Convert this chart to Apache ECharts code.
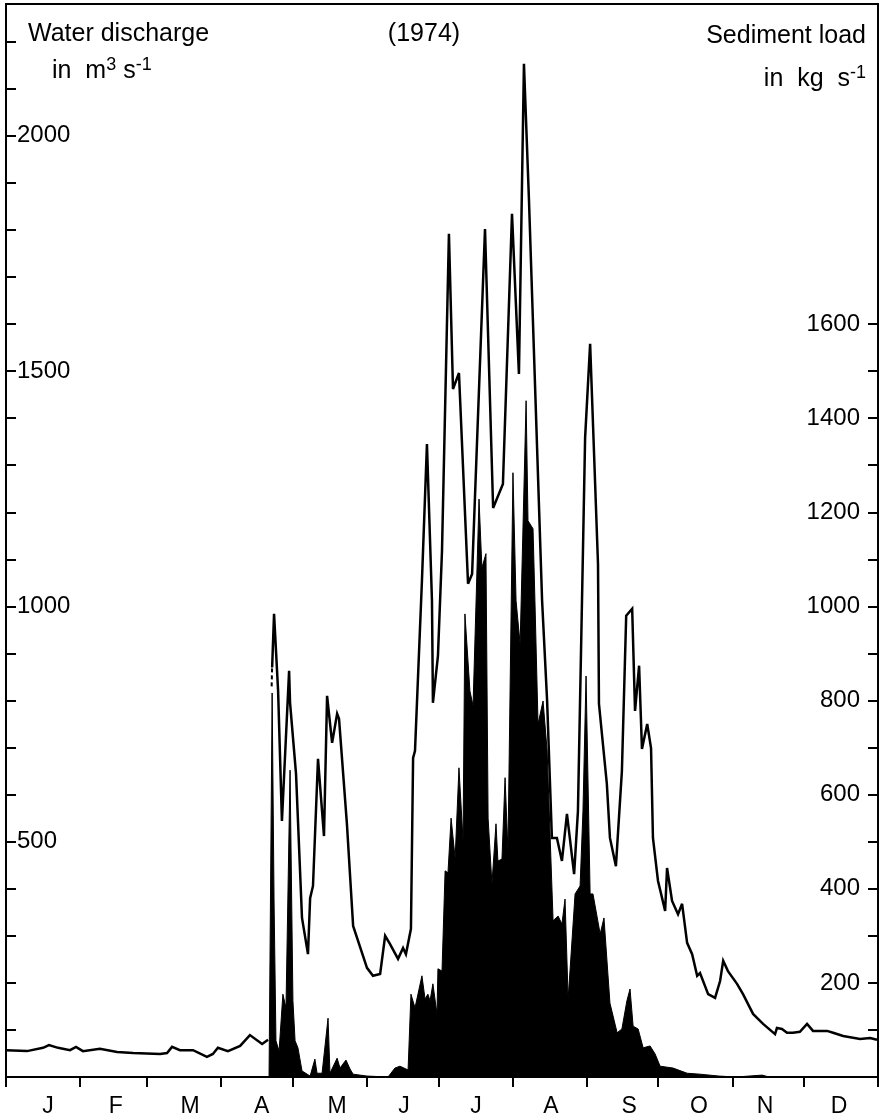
<!DOCTYPE html>
<html>
<head>
<meta charset="utf-8">
<script src="https://cdn.jsdelivr.net/npm/echarts@6/dist/echarts.min.js"></script>
<style>
  html, body { margin: 0; padding: 0; background: #fff; }
  #chart { width: 886px; height: 1118px; }
</style>
</head>
<body>
<div id="chart"></div>
<script>
// Day of year (1974) on the x axis; month boundaries and month initials.
const monthStarts = [0, 31, 59, 90, 120, 151, 181, 212, 243, 273, 304, 334, 365];
const monthLetters = ['J', 'F', 'M', 'A', 'M', 'J', 'J', 'A', 'S', 'O', 'N', 'D'];
const monthLabelDays = [17.6, 46, 77, 107, 138.6, 166.6, 196.7, 228.1, 260.8, 290.1, 317.7, 348.7];

// Left axis: water discharge (m3/s)
const dischargeTicks = [0, 100, 200, 300, 400, 500, 600, 700, 800, 900, 1000, 1100, 1200, 1300, 1400, 1500, 1600, 1700, 1800, 1900, 2000, 2100, 2200];
const dischargeLabels = [500, 1000, 1500, 2000];
// Right axis: sediment load (kg/s)
const sedimentTicks = [0, 100, 200, 300, 400, 500, 600, 700, 800, 900, 1000, 1100, 1200, 1300, 1400, 1500, 1600];
const sedimentLabels = [200, 400, 600, 800, 1000, 1200, 1400, 1600];

// Water discharge [day, m3/s]: winter record, then record from late April (gap between)
const dischargeWinter = [
  [0, 57], [8.8, 55], [15.5, 62], [18.0, 68], [21.8, 62], [26.8, 57], [29.3, 64], [32.2, 55],
  [39.3, 60], [46.5, 53], [53.2, 51], [64.5, 49], [67.4, 51], [69.5, 64], [72.8, 57], [78.3, 57],
  [84.1, 43], [86.6, 49], [88.7, 62], [92.9, 55], [98.0, 66], [102.1, 89], [107.2, 70], [109.7, 79]
];
const dischargeSummer = [
  [111.4, 870], [112.2, 984], [113.9, 820], [115.5, 544], [118.5, 863], [118.9, 795], [121.4, 644],
  [123.9, 338], [126.4, 261], [127.3, 380], [128.5, 406], [130.6, 676], [133.1, 512], [134.4, 810],
  [136.5, 710], [138.6, 772], [139.4, 761], [142.7, 538], [145.3, 321], [151.1, 232], [153.6, 215],
  [156.6, 219], [158.7, 300], [160.7, 283], [164.1, 251], [166.2, 274], [167.4, 261], [169.5, 315],
  [170.4, 678], [171.2, 693], [174.1, 1054], [176.2, 1345], [178.3, 1012], [178.7, 795], [180.8, 895],
  [182.5, 1118], [185.4, 1792], [187.1, 1462], [189.6, 1496], [193.4, 1048], [195.1, 1069],
  [200.5, 1802], [203.9, 1209], [208.0, 1260], [211.8, 1834], [214.7, 1494], [216.8, 2153],
  [218.9, 1864], [224.4, 1012], [226.5, 799], [228.5, 508], [230.6, 508], [232.7, 459], [234.8, 559],
  [237.8, 431], [239.4, 565], [241.5, 1118], [242.4, 1358], [244.5, 1558], [247.8, 1090], [248.2, 793],
  [251.5, 623], [252.8, 508], [255.3, 448], [257.8, 650], [259.6, 980], [262.1, 995], [263.3, 778],
  [265.0, 874], [266.2, 697], [268.4, 750], [270.0, 699], [270.8, 508], [272.9, 417], [275.9, 353],
  [276.7, 444], [278.8, 374], [281.3, 346], [283.0, 368], [285.1, 285], [287.2, 261], [289.3, 215],
  [290.5, 221], [293.9, 176], [296.8, 168], [298.9, 204], [300.2, 247], [302.2, 225], [306.0, 198],
  [308.5, 176], [312.7, 134], [316.9, 113], [321.9, 91], [322.7, 104], [324.8, 102], [326.9, 94],
  [329.4, 94], [332.3, 96], [335.3, 113], [337.8, 98], [343.7, 98], [346.2, 94], [350.4, 87],
  [357.5, 81], [361.7, 83], [364.6, 79]
];
// Uncertain stretch at the start of the April record (dashed)
const dischargeUncertain = [[111.2, 830], [111.4, 875]];

// Sediment load [day, kg/s]
const sedimentLoad = [
  [0, 0], [110.1, 0], [111.4, 816], [112.2, 374], [113.0, 77], [114.3, 55], [115.9, 176], [117.2, 147],
  [118.9, 652], [120.1, 162], [121.0, 77], [122.2, 62], [123.9, 13], [127.3, 2], [129.3, 38], [130.2, 8],
  [132.3, 8], [134.8, 125], [135.6, 8], [138.6, 40], [139.8, 19], [142.3, 36], [144.0, 17], [145.3, 6],
  [151.1, 2], [151.9, 0], [159.9, 0], [162.8, 19], [164.9, 23], [168.3, 15], [169.5, 176], [171.2, 147],
  [174.1, 215], [175.4, 166], [176.6, 176], [177.5, 162], [178.7, 198], [180.4, 134], [180.8, 230],
  [182.5, 225], [183.8, 438], [185.0, 434], [186.3, 550], [188.0, 465], [189.6, 657], [191.3, 502],
  [192.1, 984], [194.2, 820], [195.5, 789], [198.0, 1228], [199.2, 1082], [200.9, 1112], [201.8, 550],
  [203.4, 410], [205.1, 538], [205.9, 459], [207.6, 463], [208.9, 636], [210.1, 480], [212.2, 1284],
  [213.5, 1012], [215.2, 920], [217.7, 1437], [218.5, 1182], [220.6, 1165], [221.4, 1012], [222.7, 750],
  [224.8, 799], [226.5, 693], [229.0, 332], [231.1, 342], [232.7, 325], [234.0, 378], [235.3, 166],
  [238.2, 389], [240.3, 406], [241.5, 565], [242.8, 852], [244.5, 389], [245.7, 389], [248.7, 304],
  [250.3, 338], [252.8, 157], [255.8, 94], [257.8, 102], [259.9, 162], [261.2, 187], [262.5, 108],
  [264.6, 102], [266.7, 62], [269.6, 66], [271.7, 49], [273.8, 23], [279.2, 19], [285.1, 8], [290.5, 6],
  [298.4, 2], [305.6, 0], [316.5, 4], [319.4, 0], [365, 0]
];

const FONT = 'Liberation Sans';
const INK = '#000';

const chart = echarts.init(document.getElementById('chart'), null, { renderer: 'canvas' });

const letterByDay = new Map(monthLabelDays.map((d, i) => [d, monthLetters[i]]));
const plainNumber = v => String(v);

chart.setOption({
  animation: false,
  backgroundColor: '#fff',
  grid: {
    left: 6, right: 8, top: 4, bottom: 41,
    show: true, borderColor: INK, borderWidth: 2, backgroundColor: 'transparent'
  },
  xAxis: {
    type: 'value', min: 0, max: 365,
    axisLine: { show: true, lineStyle: { color: INK, width: 2 } },
    splitLine: { show: false },
    axisTick: { show: true, customValues: monthStarts, length: 10, lineStyle: { color: INK, width: 2 } },
    axisLabel: {
      customValues: monthLabelDays,
      formatter: v => letterByDay.get(v) || '',
      margin: 18, fontSize: 23, color: INK, fontFamily: FONT
    }
  },
  yAxis: [
    {
      type: 'value', position: 'left', min: 0, max: 2280,
      axisLine: { show: true, lineStyle: { color: INK, width: 2 } },
      splitLine: { show: false },
      axisTick: { show: true, inside: true, customValues: dischargeTicks, length: 10, lineStyle: { color: INK, width: 2 } },
      axisLabel: { inside: true, customValues: dischargeLabels, formatter: plainNumber, margin: 11, fontSize: 24, color: INK, fontFamily: FONT }
    },
    {
      type: 'value', position: 'right', min: 0, max: 2280,
      axisLine: { show: true, lineStyle: { color: INK, width: 2 } },
      splitLine: { show: false },
      axisTick: { show: true, inside: true, customValues: sedimentTicks, length: 10, lineStyle: { color: INK, width: 2 } },
      axisLabel: { inside: true, customValues: sedimentLabels, formatter: plainNumber, margin: 18, fontSize: 24, color: INK, fontFamily: FONT }
    }
  ],
  series: [
    {
      name: 'Sediment load', type: 'line', yAxisIndex: 1, data: sedimentLoad,
      symbol: 'none', z: 2,
      lineStyle: { color: INK, width: 1 },
      areaStyle: { color: INK, opacity: 1 }
    },
    {
      name: 'Water discharge', type: 'line', yAxisIndex: 0,
      data: dischargeWinter.concat([[110.5, null]], dischargeSummer),
      connectNulls: false, symbol: 'none', z: 3,
      lineStyle: { color: INK, width: 2.5, join: 'miter', miterLimit: 4 }
    },
    {
      name: 'Water discharge (uncertain)', type: 'line', yAxisIndex: 0, data: dischargeUncertain,
      symbol: 'none', z: 3,
      lineStyle: { color: INK, width: 2, type: [4, 3] }
    }
  ],
  graphic: [
    { type: 'text', x: 28, y: 22, style: { text: 'Water discharge', font: `25px "${FONT}"`, fill: INK } },
    {
      type: 'text', x: 52, y: 56,
      style: {
        text: '{t|in  m}{sup|3}{t| s}{sup|-1}', fill: INK,
        rich: {
          t: { fontSize: 25, fontFamily: FONT, lineHeight: 30 },
          sup: { fontSize: 18, fontFamily: FONT, lineHeight: 18, verticalAlign: 'top' }
        }
      }
    },
    { type: 'text', x: 424, y: 22, style: { text: '(1974)', font: `25px "${FONT}"`, fill: INK, align: 'center' } },
    { type: 'text', x: 866, y: 24, style: { text: 'Sediment load', font: `25px "${FONT}"`, fill: INK, align: 'right' } },
    {
      type: 'text', x: 866, y: 64,
      style: {
        text: '{t|in  kg  s}{sup|-1}', fill: INK, align: 'right',
        rich: {
          t: { fontSize: 25, fontFamily: FONT, lineHeight: 30 },
          sup: { fontSize: 18, fontFamily: FONT, lineHeight: 18, verticalAlign: 'top' }
        }
      }
    }
  ]
});
</script>
</body>
</html>
